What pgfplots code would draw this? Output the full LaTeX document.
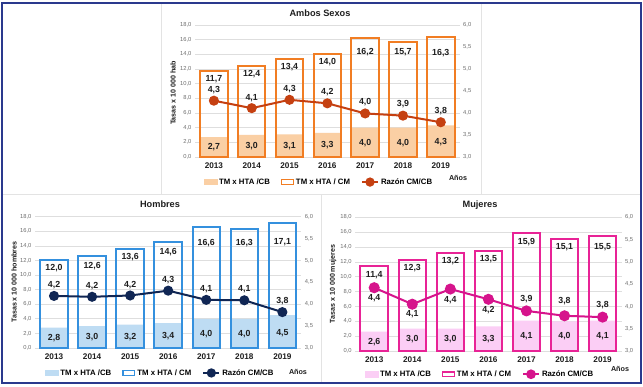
\documentclass[border=0pt]{standalone}
\usepackage{fontspec}
\setmainfont{Liberation Sans}
\usepackage{pgfplots}
\pgfplotsset{compat=1.18}

\definecolor{ambOut}{RGB}{241,125,35}
\definecolor{ambFill}{RGB}{250,207,164}
\definecolor{ambLine}{RGB}{197,64,17}
\definecolor{homOut}{RGB}{52,144,222}
\definecolor{homFill}{RGB}{190,220,243}
\definecolor{homLine}{RGB}{16,38,84}
\definecolor{mujOut}{RGB}{232,35,150}
\definecolor{mujFill}{RGB}{251,206,245}
\definecolor{mujLine}{RGB}{214,20,140}
\definecolor{frameC}{RGB}{42,57,141}
\definecolor{gridC}{RGB}{222,222,222}
\definecolor{tickC}{RGB}{110,110,110}
\definecolor{lblC}{RGB}{30,30,30}

\newcommand{\lblfont}{\fontsize{8.8}{9}\selectfont\bfseries}
\newcommand{\legfont}{\fontsize{7.8}{8}\selectfont\bfseries}
\newcommand{\ylfont}{\fontsize{7.1}{8}\selectfont\bfseries}
\newcommand{\titfont}{\fontsize{9.2}{10}\selectfont\bfseries}

\pgfplotsset{
  leftbase/.style={
    scale only axis, anchor=south west, clip=false,
    xmin=-0.5, xmax=6.5, ymin=0, ymax=18,
    xtick={0,1,2,3,4,5,6},
    xticklabels={2013,2014,2015,2016,2017,2018,2019},
    ytick={0,2,4,6,8,10,12,14,16,18},
    major tick length=0pt,
    ymajorgrids, grid style={gridC, line width=0.7pt},
    axis line style={draw=none},
    /pgf/number format/assume math mode=true,
    yticklabel style={font=\fontsize{5.8}{6}\selectfont, text=tickC,
      /pgf/number format/.cd, fixed, fixed zerofill, precision=1, use comma},
    xticklabel style={font=\fontsize{8.2}{9}\selectfont\bfseries, text=lblC, yshift=-2pt},
  },
  rightbase/.style={
    scale only axis, anchor=south west, clip=false,
    xmin=-0.5, xmax=6.5, ymin=3, ymax=6,
    ytick={3,3.5,4,4.5,5,5.5,6},
    axis y line*=right, axis x line=none,
    y axis line style={draw=none},
    major tick length=0pt,
    /pgf/number format/assume math mode=true,
    yticklabel style={font=\fontsize{5.8}{6}\selectfont, text=tickC,
      /pgf/number format/.cd, fixed, fixed zerofill, precision=1, use comma},
    legend cell align=left,
  },
  lbls/.style={draw=none, mark=none, nodes near coords, point meta=explicit symbolic,
    every node near coord/.append style={anchor=center, font=\lblfont, text=lblC, inner sep=0pt}},
}

\begin{document}
\begin{tikzpicture}[x=1pt,y=1pt]
\useasboundingbox (0,0) rectangle (643,386);
\fill[white] (0,0) rectangle (643,386);
% panel separators
\draw[gray!22, line width=0.8pt] (3,192) -- (640,192);
\draw[gray!22, line width=0.8pt] (161,192) -- (161,383);
\draw[gray!22, line width=0.8pt] (481,192) -- (481,383);
\draw[gray!22, line width=0.8pt] (321,3) -- (321,192);

%================ AMBOS SEXOS =================
\begin{axis}[leftbase, at={(195pt,229pt)}, width=264.7pt, height=132pt]
\addplot[ybar, bar width=27.5pt, fill=ambFill, draw=none] coordinates {(0,2.7) (1,3.0) (2,3.1) (3,3.3) (4,4.0) (5,4.0) (6,4.3)};
\addplot[ybar, bar width=27.5pt, fill=none, draw=ambOut, line width=2pt] coordinates {(0,11.7) (1,12.4) (2,13.4) (3,14.0) (4,16.2) (5,15.7) (6,16.3)};
\addplot[lbls] table[meta=l] {
x y l
0 10.6 11,7
1 11.35 12,4
2 12.3 13,4
3 12.9 14,0
4 14.3 16,2
5 14.3 15,7
6 14.2 16,3
};
\addplot[lbls] table[meta=l] {
x y l
0 1.4 2,7
1 1.45 3,0
2 1.5 3,1
3 1.6 3,3
4 1.9 4,0
5 1.9 4,0
6 2.05 4,3
};
\addplot[lbls] table[meta=l] {
x y l
0 9.15 4,3
1 8.05 4,1
2 9.25 4,3
3 8.9 4,2
4 7.5 4,0
5 7.2 3,9
6 6.3 3,8
};
\end{axis}
\begin{axis}[rightbase, at={(195pt,229pt)}, width=264.7pt, height=132pt,
  legend style={at={(0.468,-0.19)}, anchor=center, draw=none, fill=none, font=\legfont,
    legend columns=3, inner sep=0pt, /tikz/every even column/.append style={column sep=9pt}}]
\addlegendimage{legend image code/.code={\fill[ambFill] (0pt,-2.6pt) rectangle (13pt,2.6pt);}}
\addlegendentry{TM x HTA /CB}
\addlegendimage{legend image code/.code={\draw[ambOut, line width=1.4pt] (0.7pt,-2.3pt) rectangle (12.3pt,2.3pt);}}
\addlegendentry{TM x HTA / CM}
\addplot[ambLine, line width=2pt, mark=*, mark size=4pt, mark options={fill=ambLine, draw=ambLine},
  legend image code/.code={\draw[ambLine, line width=2pt] (0pt,0pt) -- (16pt,0pt); \fill[ambLine] (8pt,0pt) circle (3.6pt);}]
  coordinates {(0,4.28) (1,4.11) (2,4.30) (3,4.22) (4,3.99) (5,3.94) (6,3.79)};
\addlegendentry{Razón CM/CB}
\end{axis}
\node[font=\titfont, text=lblC] at (320,373) {Ambos Sexos};
\node[font=\ylfont, text=lblC, rotate=90] at (173,293) {Tasas x 10 000 hab};
\node[font=\fontsize{7.2}{8}\selectfont\bfseries, text=lblC] at (458,208) {Años};

%================ HOMBRES =================
\begin{axis}[leftbase, at={(35pt,38pt)}, width=266.4pt, height=131.3pt]
\addplot[ybar, bar width=27.5pt, fill=homFill, draw=none] coordinates {(0,2.8) (1,3.0) (2,3.2) (3,3.4) (4,4.0) (5,4.0) (6,4.5)};
\addplot[ybar, bar width=27.5pt, fill=none, draw=homOut, line width=2pt] coordinates {(0,12.0) (1,12.6) (2,13.6) (3,14.6) (4,16.6) (5,16.3) (6,17.1)};
\addplot[lbls] table[meta=l] {
x y l
0 10.95 12,0
1 11.2 12,6
2 12.4 13,6
3 13.2 14,6
4 14.4 16,6
5 14.4 16,3
6 14.5 17,1
};
\addplot[lbls] table[meta=l] {
x y l
0 1.35 2,8
1 1.45 3,0
2 1.55 3,2
3 1.65 3,4
4 1.95 4,0
5 1.95 4,0
6 2.1 4,5
};
\addplot[lbls] table[meta=l] {
x y l
0 8.6 4,2
1 8.5 4,2
2 8.65 4,2
3 9.3 4,3
4 8.05 4,1
5 8.0 4,1
6 6.4 3,8
};
\end{axis}
\begin{axis}[rightbase, at={(35pt,38pt)}, width=266.4pt, height=131.3pt,
  legend style={at={(0.47,-0.19)}, anchor=center, draw=none, fill=none, font=\legfont,
    legend columns=3, inner sep=0pt, /tikz/every even column/.append style={column sep=9pt}}]
\addlegendimage{legend image code/.code={\fill[homFill] (0pt,-2.6pt) rectangle (13pt,2.6pt);}}
\addlegendentry{TM x HTA /CB}
\addlegendimage{legend image code/.code={\draw[homOut, line width=1.4pt] (0.7pt,-2.3pt) rectangle (12.3pt,2.3pt);}}
\addlegendentry{TM x HTA / CM}
\addplot[homLine, line width=2pt, mark=*, mark size=4pt, mark options={fill=homLine, draw=homLine},
  legend image code/.code={\draw[homLine, line width=2pt] (0pt,0pt) -- (16pt,0pt); \fill[homLine] (8pt,0pt) circle (3.6pt);}]
  coordinates {(0,4.19) (1,4.17) (2,4.20) (3,4.31) (4,4.10) (5,4.09) (6,3.82)};
\addlegendentry{Razón CM/CB}
\end{axis}
\node[font=\titfont, text=lblC] at (160,182) {Hombres};
\node[font=\ylfont, text=lblC, rotate=90] at (14,104) {Tasas x 10 000 hombres};
\node[font=\fontsize{7.2}{8}\selectfont\bfseries, text=lblC] at (298,14) {Años};

%================ MUJERES =================
\begin{axis}[leftbase, at={(355.2pt,35pt)}, width=266.4pt, height=133.7pt]
\addplot[ybar, bar width=27.5pt, fill=mujFill, draw=none] coordinates {(0,2.6) (1,3.0) (2,3.0) (3,3.3) (4,4.1) (5,4.0) (6,4.1)};
\addplot[ybar, bar width=27.5pt, fill=none, draw=mujOut, line width=2pt] coordinates {(0,11.4) (1,12.3) (2,13.2) (3,13.5) (4,15.9) (5,15.1) (6,15.5)};
\addplot[lbls] table[meta=l] {
x y l
0 10.2 11,4
1 11.2 12,3
2 12.1 13,2
3 12.4 13,5
4 14.6 15,9
5 14.0 15,1
6 14.0 15,5
};
\addplot[lbls] table[meta=l] {
x y l
0 1.15 2,6
1 1.55 3,0
2 1.55 3,0
3 1.65 3,3
4 2.05 4,1
5 2.0 4,0
6 2.05 4,1
};
\addplot[lbls] table[meta=l] {
x y l
0 7.05 4,4
1 4.95 4,1
2 6.9 4,4
3 5.5 4,2
4 7.0 3,9
5 6.7 3,8
6 6.2 3,8
};
\end{axis}
\begin{axis}[rightbase, at={(355.2pt,35pt)}, width=266.4pt, height=133.7pt,
  legend style={at={(0.468,-0.174)}, anchor=center, draw=none, fill=none, font=\legfont,
    legend columns=3, inner sep=0pt, /tikz/every even column/.append style={column sep=9pt}}]
\addlegendimage{legend image code/.code={\fill[mujFill] (0pt,-2.6pt) rectangle (13pt,2.6pt);}}
\addlegendentry{TM x HTA /CB}
\addlegendimage{legend image code/.code={\draw[mujOut, line width=1.4pt] (0.7pt,-2.3pt) rectangle (12.3pt,2.3pt);}}
\addlegendentry{TM x HTA / CM}
\addplot[mujLine, line width=2pt, mark=*, mark size=4.5pt, mark options={fill=mujLine, draw=mujLine},
  legend image code/.code={\draw[mujLine, line width=2pt] (0pt,0pt) -- (16pt,0pt); \fill[mujLine] (8pt,0pt) circle (3.8pt);}]
  coordinates {(0,4.42) (1,4.05) (2,4.39) (3,4.16) (4,3.90) (5,3.79) (6,3.76)};
\addlegendentry{Razón CM/CB}
\end{axis}
\node[font=\titfont, text=lblC] at (480,181) {Mujeres};
\node[font=\ylfont, text=lblC, rotate=90] at (333,102) {Tasas x 10 000 mujeres};
\node[font=\fontsize{7.2}{8}\selectfont\bfseries, text=lblC] at (620,17) {Años};

% outer frame
\draw[frameC, line width=2.5pt] (2,3) rectangle (641,383);
\end{tikzpicture}
\end{document}
